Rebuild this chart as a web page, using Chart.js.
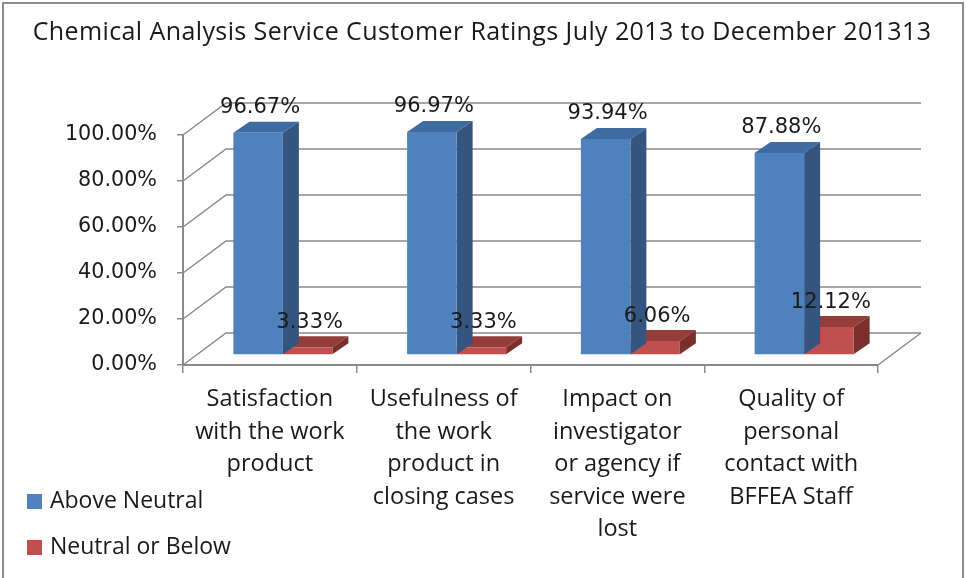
<!DOCTYPE html>
<html>
<head>
<meta charset="utf-8">
<script src="https://cdn.jsdelivr.net/npm/chart.js@4"></script>
<style>
  html, body { margin: 0; padding: 0; background: #fff; }
  #wrap { width: 966px; height: 578px; position: relative; }
</style>
</head>
<body>
<div id="wrap"><canvas id="c" width="966" height="578"></canvas></div>
<script>
// data
const categories = [
  ["Satisfaction", "with the work", "product"],
  ["Usefulness of", "the work", "product in", "closing cases"],
  ["Impact on", "investigator", "or agency if", "service were", "lost"],
  ["Quality of", "personal", "contact with", "BFFEA Staff"]
];
const aboveNeutral = [96.67, 96.97, 93.94, 87.88];
const neutralOrBelow = [3.33, 3.33, 6.06, 12.12];
const seriesNames = ["Above Neutral", "Neutral or Below"];
const yTicks = [0, 20, 40, 60, 80, 100];
const titleText = "Chemical Analysis Service Customer Ratings July 2013 to December 201313";

// colours: front, top, side
const blue = ["#4F81BD", "#3E6BA2", "#34557F"];
const red = ["#C0504D", "#943D3A", "#7B2F2D"];

const BACK = { dx: 43, dy: -32 };   // back wall offset
const BAR = { dx: 13, dy: -10 };    // bar plane offset
const DEPTH = { dx: 16, dy: -11 };  // bar depth
const gridCol = "#8A8A8A";
const calibriLike = "'Open Sans', 'Liberation Sans', sans-serif";
const verdanaLike = "'DejaVu Sans', Verdana, sans-serif";

const frame3d = {
  id: "frame3d",
  beforeDraw(chart) {
    const ctx = chart.ctx;
    ctx.save();
    ctx.fillStyle = "#fff";
    ctx.fillRect(0, 0, chart.width, chart.height);
    ctx.strokeStyle = "#8C8C8C";
    ctx.lineWidth = 2;
    ctx.strokeRect(3, 3, chart.width - 6, chart.height + 10);
    // title
    ctx.fillStyle = "#1A1A1A";
    ctx.font = "25px " + calibriLike;
    ctx.letterSpacing = "0.4px";
    ctx.textAlign = "center";
    ctx.textBaseline = "middle";
    ctx.fillText(titleText, 482, 33);
    ctx.letterSpacing = "0px";
    // legend
    ctx.font = "23px " + calibriLike;
    ctx.textAlign = "left";
    chart.data.datasets.forEach((ds, i) => {
      const y = 500 + i * 46;
      ctx.fillStyle = ds.backgroundColor;
      ctx.fillRect(27, y - 6, 15, 15);
      ctx.fillStyle = "#1A1A1A";
      ctx.fillText(ds.label, 50, y + 1);
    });
    ctx.restore();
  },
  beforeDatasetsDraw(chart) {
    const ctx = chart.ctx;
    const ys = chart.scales.y, a = chart.chartArea;
    ctx.save();
    ctx.strokeStyle = gridCol;
    ctx.lineWidth = 1.5;
    ctx.beginPath();
    yTicks.forEach(v => {
      const y = ys.getPixelForValue(v);
      ctx.moveTo(a.left, y);
      ctx.lineTo(a.left + BACK.dx, y + BACK.dy);
      ctx.lineTo(a.right + BACK.dx, y + BACK.dy);
    });
    ctx.moveTo(a.right, a.bottom);
    ctx.lineTo(a.right + BACK.dx, a.bottom + BACK.dy);
    ctx.stroke();
    ctx.restore();
    ctx.save();
    ctx.translate(BAR.dx, BAR.dy);
  },
  beforeDatasetDraw(chart, args) {
    const ctx = chart.ctx;
    const cols = args.index === 0 ? blue : red;
    chart.getDatasetMeta(args.index).data.forEach(bar => {
      const l = bar.x - bar.width / 2, r = bar.x + bar.width / 2;
      const t = bar.y, b = bar.base;
      // top face
      ctx.fillStyle = cols[1];
      ctx.beginPath();
      ctx.moveTo(l, t);
      ctx.lineTo(l + DEPTH.dx, t + DEPTH.dy);
      ctx.lineTo(r + DEPTH.dx, t + DEPTH.dy);
      ctx.lineTo(r, t);
      ctx.closePath();
      ctx.fill();
      // side face
      ctx.fillStyle = cols[2];
      ctx.beginPath();
      ctx.moveTo(r, t);
      ctx.lineTo(r + DEPTH.dx, t + DEPTH.dy);
      ctx.lineTo(r + DEPTH.dx, b + DEPTH.dy);
      ctx.lineTo(r, b);
      ctx.closePath();
      ctx.fill();
    });
  },
  afterDatasetsDraw(chart) {
    const ctx = chart.ctx;
    ctx.fillStyle = "#1A1A1A";
    ctx.font = "21px " + verdanaLike;
    ctx.textAlign = "center";
    ctx.textBaseline = "middle";
    chart.data.datasets.forEach((ds, i) => {
      chart.getDatasetMeta(i).data.forEach((bar, j) => {
        ctx.fillText(ds.data[j].toFixed(2) + "%", bar.x + 2, bar.y - 25);
      });
    });
    ctx.restore();
  }
};

new Chart(document.getElementById("c"), {
  type: "bar",
  data: {
    labels: categories,
    datasets: [
      { label: seriesNames[0], data: aboveNeutral, backgroundColor: blue[0], clip: false },
      { label: seriesNames[1], data: neutralOrBelow, backgroundColor: red[0], clip: false }
    ]
  },
  options: {
    responsive: false,
    animation: false,
    events: [],
    layout: { padding: { top: 135, right: 88, left: 0, bottom: 0 } },
    categoryPercentage: 0.57,
    barPercentage: 1,
    plugins: { legend: { display: false }, title: { display: false }, tooltip: { enabled: false } },
    scales: {
      y: {
        min: 0, max: 100,
        afterFit: s => { s.width = 183; },
        afterBuildTicks: s => { s.ticks = yTicks.map(v => ({ value: v })); },
        ticks: { padding: 20, color: "#1A1A1A", font: { family: verdanaLike, size: 20.7 },
          callback: v => v.toFixed(2) + "%" },
        grid: { drawOnChartArea: false, tickLength: 6, color: gridCol, lineWidth: 1.5 },
        border: { color: gridCol, width: 2 }
      },
      x: {
        afterFit: s => { s.height = 578 - 365; },
        ticks: { padding: 10, color: "#1A1A1A", autoSkip: false, maxRotation: 0,
          font: { family: calibriLike, size: 23.5, lineHeight: 1.385 } },
        grid: { drawOnChartArea: false, offset: true, tickLength: 8, color: gridCol, lineWidth: 1.5 },
        border: { color: gridCol, width: 2 }
      }
    }
  },
  plugins: [frame3d]
});
</script>
</body>
</html>
